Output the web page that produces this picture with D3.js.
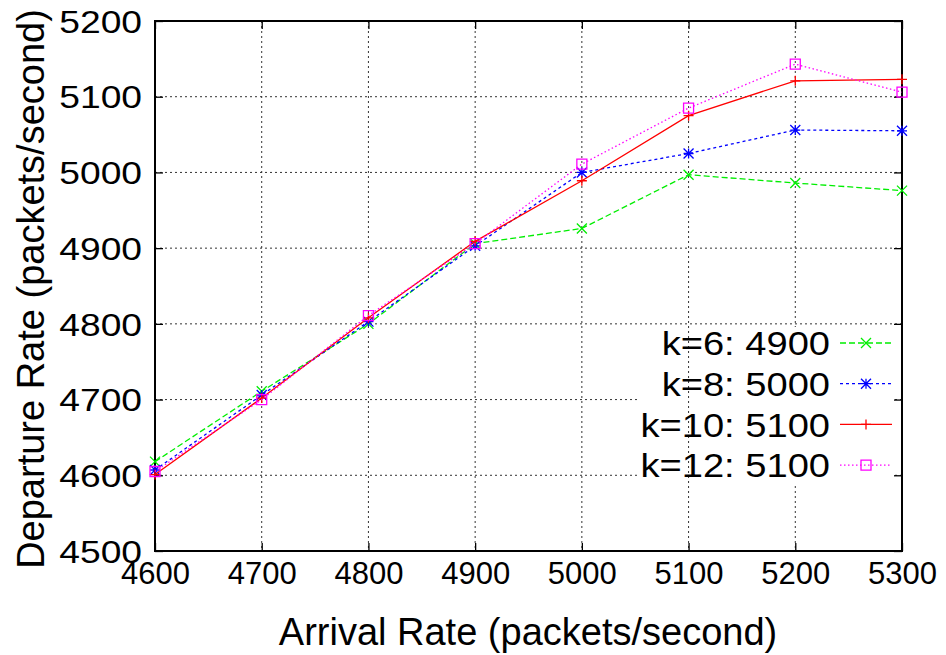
<!DOCTYPE html>
<html>
<head>
<meta charset="utf-8">
<script src="https://cdn.jsdelivr.net/npm/d3@7"></script>
<style>
  body { margin: 0; background: #fff; }
  text { font-family: "Liberation Sans", Arial, sans-serif; fill: #000; }
</style>
</head>
<body>
<div id="container"></div>
<script>
// arrival rates (x axis)
const arrival = [4600, 4700, 4800, 4900, 5000, 5100, 5200, 5300];

// departure rates, one array per k
const k6  = [4618, 4711, 4800, 4906, 4926, 4997, 4986, 4976];
const k8  = [4607, 4706, 4803, 4903, 5000, 5025, 5056, 5055];
const k10 = [4601, 4702, 4808, 4909, 4989, 5075, 5121, 5123];
const k12 = [4605, 4700, 4811, 4906, 5011, 5085, 5143, 5106];

const seriesNames = ["k=6: 4900", "k=8: 5000", "k=10: 5100", "k=12: 5100"];
const xTicks = [4600, 4700, 4800, 4900, 5000, 5100, 5200, 5300];
const yTicks = [4500, 4600, 4700, 4800, 4900, 5000, 5100, 5200];

const width = 946;
const height = 655;
const plotL = 155, plotR = 902, plotT = 21, plotB = 551;

const series = [
    {name: seriesNames[0], values: k6,  color: "#00ee00", dash: "6,3",   marker: "x"},
    {name: seriesNames[1], values: k8,  color: "#0000ff", dash: "3,3",   marker: "star"},
    {name: seriesNames[2], values: k10, color: "#ff0000", dash: null,    marker: "plus"},
    {name: seriesNames[3], values: k12, color: "#ff00ff", dash: "1.5,2.5", marker: "square"}
];

const svg = d3.select("#container")
    .append("svg")
    .attr("width", width)
    .attr("height", height);

const scaleX = d3.scaleLinear().domain([4600, 5300]).range([plotL, plotR]);
const scaleY = d3.scaleLinear().domain([4500, 5200]).range([plotB, plotT]);

// stretch a text sideways a little (the reference font runs wide)
function widen(sel, k) {
    sel.each(function () {
        const w = this.getComputedTextLength();
        d3.select(this).attr("textLength", w * k).attr("lengthAdjust", "spacingAndGlyphs");
    });
}

// grid
function vGrid(vals) {
    svg.append("g")
        .selectAll("line")
        .data(vals)
        .enter()
        .append("line")
        .attr("x1", d => scaleX(d)).attr("x2", d => scaleX(d))
        .attr("y1", plotT).attr("y2", plotB)
        .attr("stroke", "#333")
        .attr("stroke-width", 1)
        .attr("stroke-dasharray", "2,3");
}

svg.append("g")
    .selectAll("line")
    .data(yTicks.slice(1, -1))
    .enter()
    .append("line")
    .attr("x1", plotL).attr("x2", plotR)
    .attr("y1", d => scaleY(d)).attr("y2", d => scaleY(d))
    .attr("stroke", "#333")
    .attr("stroke-width", 1)
    .attr("stroke-dasharray", "2,3");

vGrid([5200]);

// legend box (opaque), the other vertical grid lines sit over it
svg.append("rect")
    .attr("x", 639).attr("y", 327)
    .attr("width", 256).attr("height", 157)
    .attr("fill", "#fff");

vGrid(xTicks.slice(1, -2));

// axes, ticks pointing inward, mirrored on the far sides
const xAxis = d3.axisBottom(scaleX).tickValues(xTicks).tickSize(-8).tickPadding(10).tickFormat(d3.format("d"));
const yAxis = d3.axisLeft(scaleY).tickValues(yTicks).tickSize(-8).tickPadding(13).tickFormat(d3.format("d"));

const gx = svg.append("g")
    .attr("transform", "translate(0," + plotB + ")")
    .call(xAxis);
gx.selectAll("text").attr("font-size", 31).attr("dy", "0.74em");

const gy = svg.append("g")
    .attr("transform", "translate(" + plotL + ",0)")
    .call(yAxis);
gy.selectAll("text").attr("font-size", 31).attr("dy", "0.36em").call(widen, 1.2);

svg.append("g")
    .attr("transform", "translate(0," + plotT + ")")
    .call(d3.axisTop(scaleX).tickValues(xTicks).tickSize(-8).tickFormat(""));
svg.append("g")
    .attr("transform", "translate(" + plotR + ",0)")
    .call(d3.axisRight(scaleY).tickValues(yTicks).tickSize(-8).tickFormat(""));

svg.selectAll(".domain").attr("stroke", "none");
svg.selectAll(".tick line").attr("stroke", "#000").attr("stroke-width", 1.3);

// border
svg.append("rect")
    .attr("x", plotL).attr("y", plotT)
    .attr("width", plotR - plotL).attr("height", plotB - plotT)
    .attr("fill", "none")
    .attr("stroke", "#000")
    .attr("stroke-width", 2);

// marker shapes
function markerPath(type, s) {
    if (type === "x") return `M${-s},${-s}L${s},${s}M${-s},${s}L${s},${-s}`;
    if (type === "plus") return `M${-s},0H${s}M0,${-s}V${s}`;
    if (type === "star") return `M${-s},${-s}L${s},${s}M${-s},${s}L${s},${-s}M${-s},0H${s}M0,${-s}V${s}`;
    return `M${-s},${-s}H${s}V${s}H${-s}Z`;
}

const line = d3.line()
    .x((d, i) => scaleX(arrival[i]))
    .y(d => scaleY(d));

const legX = 830, legY = 343, legStep = 40.7;

series.forEach(function (s, j) {
    const g = svg.append("g");
    g.append("path")
        .attr("d", line(s.values))
        .attr("fill", "none")
        .attr("stroke", s.color)
        .attr("stroke-width", 1.3)
        .attr("stroke-dasharray", s.dash);

    g.selectAll("path.mk")
        .data(s.values)
        .enter()
        .append("path")
        .attr("class", "mk")
        .attr("transform", (d, i) => "translate(" + scaleX(arrival[i]) + "," + scaleY(d) + ")")
        .attr("d", markerPath(s.marker, 5))
        .attr("fill", "none")
        .attr("stroke", s.color)
        .attr("stroke-width", 1.3);

    // legend entry
    const ly = legY + j * legStep;
    g.append("text")
        .attr("x", legX)
        .attr("y", ly)
        .attr("dy", "0.36em")
        .attr("text-anchor", "end")
        .attr("font-size", 34)
        .text(s.name)
        .call(widen, 1.12);
    g.append("line")
        .attr("x1", 840).attr("x2", 892)
        .attr("y1", ly).attr("y2", ly)
        .attr("stroke", s.color)
        .attr("stroke-width", 1.3)
        .attr("stroke-dasharray", s.dash);
    g.append("path")
        .attr("transform", "translate(866," + ly + ")")
        .attr("d", markerPath(s.marker, 5))
        .attr("fill", "none")
        .attr("stroke", s.color)
        .attr("stroke-width", 1.3);
});

// axis titles
svg.append("text")
    .attr("x", 528)
    .attr("y", 645)
    .attr("text-anchor", "middle")
    .attr("font-size", 38)
    .text("Arrival Rate (packets/second)");

svg.append("text")
    .attr("transform", "translate(44,289) rotate(-90)")
    .attr("text-anchor", "middle")
    .attr("font-size", 38)
    .text("Departure Rate (packets/second)");
</script>
</body>
</html>
